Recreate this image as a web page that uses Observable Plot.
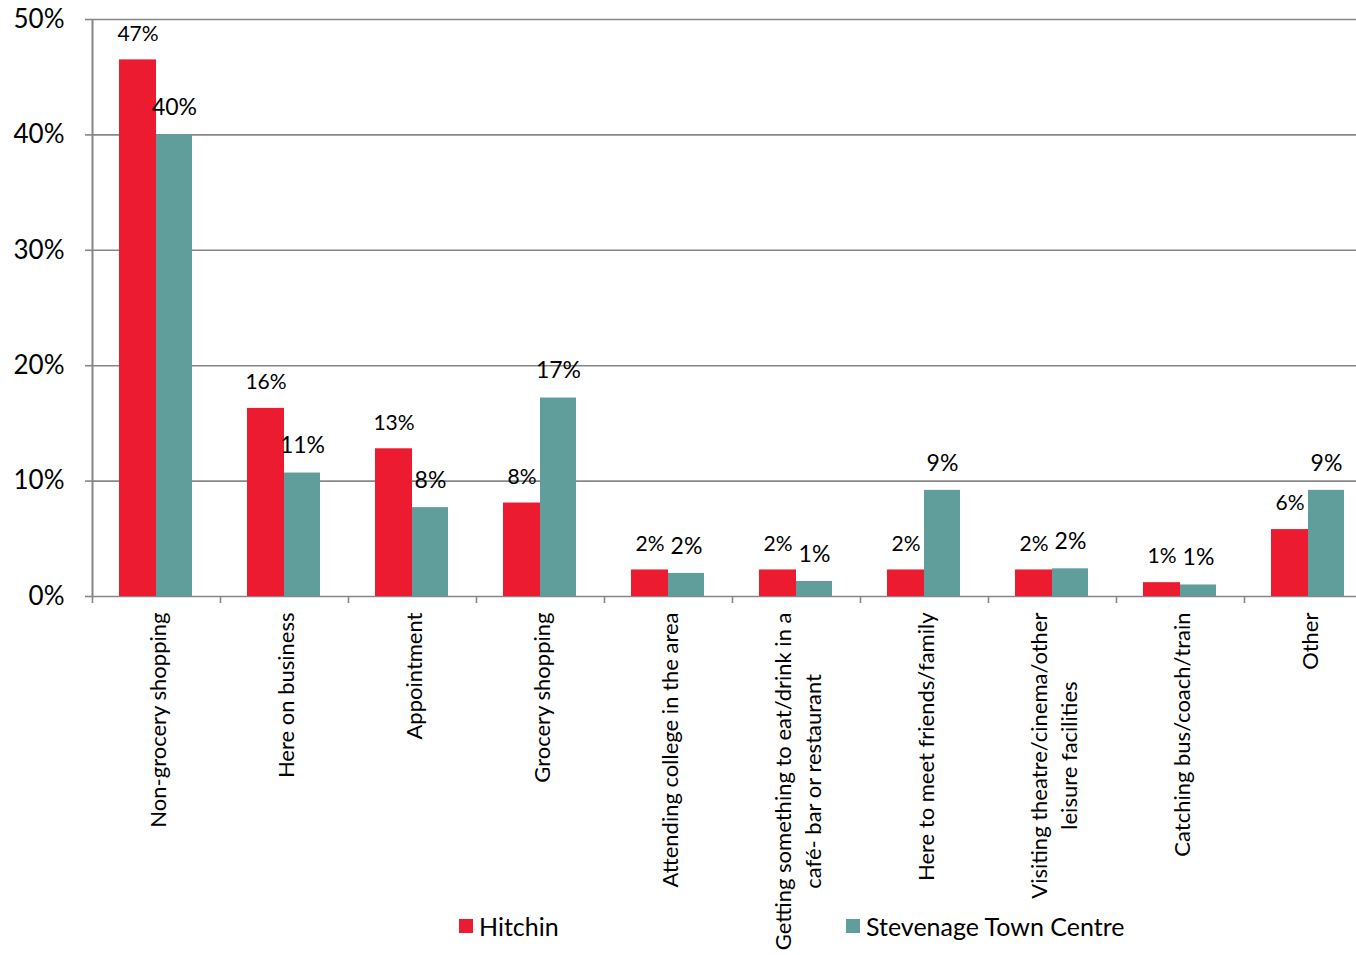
<!DOCTYPE html>
<html>
<head>
<meta charset="utf-8">
<script src="https://cdn.jsdelivr.net/npm/d3@7"></script>
<script src="https://cdn.jsdelivr.net/npm/@observablehq/plot@0.6"></script>
<style>
  body { margin: 0; background: #fff; }
  #wrap { position: relative; width: 1356px; height: 955px; overflow: hidden; font-family: Lato, "Open Sans", sans-serif; }
  .leg { position: absolute; font-size: 25px; color: #000; display: flex; align-items: center; white-space: nowrap; height: 30px; }
  .sw { width: 14px; height: 14px; margin-right: 6px; display: inline-block; }
</style>
</head>
<body>
<div id="wrap"></div>
<script>
const categories = [
  "Non-grocery shopping",
  "Here on business",
  "Appointment",
  "Grocery shopping",
  "Attending college in the area",
  "Getting something to eat/drink in a\ncafé- bar or restaurant",
  "Here to meet friends/family",
  "Visiting theatre/cinema/other\nleisure facilities",
  "Catching bus/coach/train",
  "Other"
];
const seriesNames = ["Hitchin", "Stevenage Town Centre"];
const hitchin   = [46.5, 16.3, 12.8, 8.1, 2.3, 2.3, 2.3, 2.3, 1.2, 5.8];
const stevenage = [40.0, 10.7, 7.7, 17.2, 2.0, 1.3, 9.2, 2.4, 1.0, 9.2];
const yTicks = [0, 10, 20, 30, 40, 50];
const colors = ["#ED1B2F", "#5F9E9A"];

const rows = categories.flatMap((c, i) => [
  {category: c, series: seriesNames[0], value: hitchin[i]},
  {category: c, series: seriesNames[1], value: stevenage[i]}
]);
const hRows = rows.filter(d => d.series === seriesNames[0]);
const sRows = rows.filter(d => d.series === seriesNames[1]);

const W = 1356, H = 955;
const mLeft = 92, mTop = 19, mBottom = 359;
const step = 128;
const grid = "#878787";

const chart = Plot.plot({
  width: W,
  height: H,
  marginLeft: mLeft,
  marginRight: 0,
  marginTop: mTop,
  marginBottom: mBottom,
  style: {fontFamily: "Lato, 'Open Sans', sans-serif", background: "#fff", overflow: "visible"},
  x: {type: "band", domain: categories, range: [mLeft, mLeft + step * categories.length], padding: 0, axis: null},
  y: {domain: [0, 50], axis: null},
  color: {domain: seriesNames, range: colors},
  marks: [
    Plot.ruleY(yTicks, {y: d => d, stroke: grid, strokeWidth: 1.6}),
    Plot.axisY({ticks: yTicks, tickSize: 7, tickPadding: 21, tickFormat: d => d + "%", fontSize: 26, stroke: grid, strokeWidth: 1.6, fill: "#000", label: null}),
    Plot.ruleX([0, 50], {x: () => categories[0], y1: 0, y2: 50, dx: -step / 2, stroke: grid, strokeWidth: 1.6}),
    Plot.axisX({ticks: categories, dx: -step / 2, tickSize: 7, tickFormat: () => "", stroke: grid, strokeWidth: 1.6, label: null}),
    Plot.barY(hRows, {x: "category", y: "value", fill: d => d.series, insetLeft: 27, insetRight: 64}),
    Plot.barY(sRows, {x: "category", y: "value", fill: d => d.series, insetLeft: 64, insetRight: 28}),
    Plot.text(hRows, {x: "category", y: "value", text: d => Math.round(d.value) + "%", dx: -18.5, dy: -26, fontSize: 21, fill: "#000", lineAnchor: "middle"}),
    Plot.text(sRows, {x: "category", y: "value", text: d => Math.round(d.value) + "%", dx: 18, dy: -27, fontSize: 23, fill: "#000", lineAnchor: "middle"}),
    Plot.text(categories, {x: d => d, text: d => d, frameAnchor: "bottom", dy: 16, rotate: -90, textAnchor: "end", lineAnchor: "middle", fontSize: 22, lineHeight: 1.35, fill: "#000", className: "xlab"})
  ]
});

const wrap = document.getElementById("wrap");
wrap.appendChild(chart);

// center the lines of multi-line rotated category labels within their block
d3.select(chart).selectAll("g.xlab text").each(function() {
  const tspans = Array.from(this.querySelectorAll("tspan"));
  if (tspans.length < 2) return;
  const lens = tspans.map(t => t.getComputedTextLength());
  const max = d3.max(lens);
  this.setAttribute("text-anchor", "middle");
  tspans.forEach(t => t.setAttribute("x", -max / 2));
});

// legend
const legendPos = [{left: 459, top: 911}, {left: 846, top: 911}];
seriesNames.forEach((s, i) => {
  const div = document.createElement("div");
  div.className = "leg";
  div.style.left = legendPos[i].left + "px";
  div.style.top = legendPos[i].top + "px";
  const sw = document.createElement("span");
  sw.className = "sw";
  sw.style.background = chart.scale("color").apply(s);
  div.appendChild(sw);
  div.appendChild(document.createTextNode(s));
  wrap.appendChild(div);
});
</script>
</body>
</html>
